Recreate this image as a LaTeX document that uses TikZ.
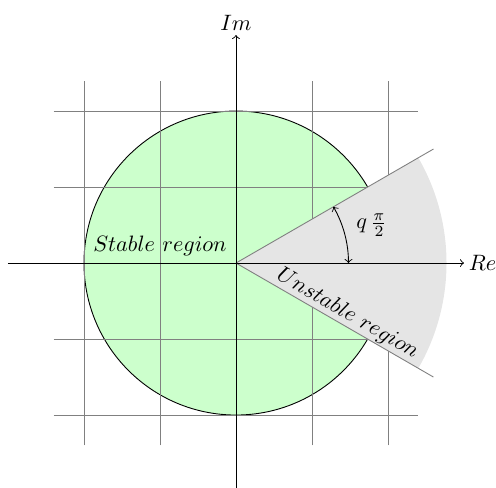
\documentclass[tikz,border=0pt]{standalone}
\begin{document}
\begin{tikzpicture}[x=1.2cm,y=1.2cm,
  gridline/.style={gray,thin},
  wedgeline/.style={gray,thin},
  axis/.style={->,thin}]
\useasboundingbox (-3.105,-2.947) rectangle (3.421,3.461);
% stable disc
\filldraw[fill=green!20,draw=black] (0,0) circle (2);
% grid
\draw[gridline,step=1.2cm] (-2.4,-2.4) grid (2.4,2.4);
% unstable sector
\fill[gray!20] (0,0) -- (-30:2.77) arc (-30:30:2.77) -- cycle;
\coordinate (O) at (0,0);
\coordinate (wu) at (30:3);
\coordinate (wl) at (-30:3);
\draw[wedgeline] (O) -- (wu);
\draw[wedgeline] (O) -- (wl);
% axes
\coordinate (xs) at (-3,0);
\coordinate (xe) at (3,0);
\coordinate (ys) at (0,-3);
\coordinate (ye) at (0,3);
\draw[axis] (xs) -- (xe) node[right,inner sep=2pt] (re) {$Re$};
\draw[axis] (ys) -- (ye) node[above,inner sep=2pt] (im) {$Im$};
% angle
\coordinate (a0) at (0:1.48);
\draw[<->] (a0) arc (0:30:1.48);
\node[right] (q) at (1.48,0.5) {$q\,\frac{\pi}{2}$};
% region labels
\node (stable) at (-1,0.22) {$Stable\ region$};
\node[rotate=-30] (unstable) at (1.47,-0.67) {$Unstable\ region$};
\end{tikzpicture}
\end{document}
